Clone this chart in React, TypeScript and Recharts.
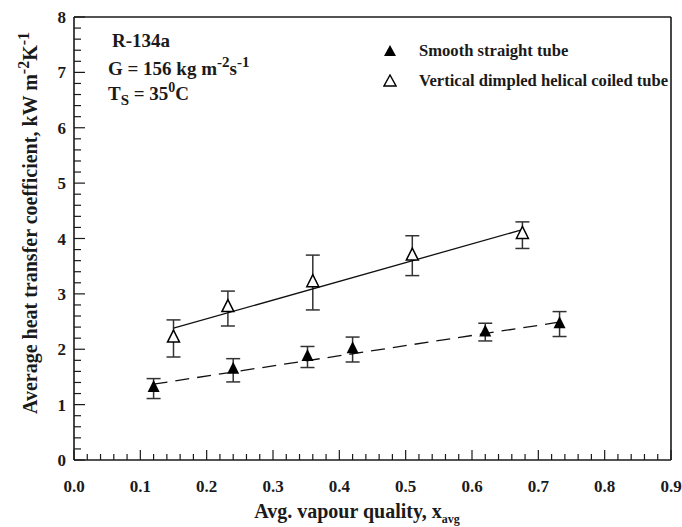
import React from 'react';
import {
  ScatterChart,
  Scatter,
  XAxis,
  YAxis,
  ErrorBar,
  ReferenceLine,
} from 'recharts';

// Smooth straight tube (filled triangles)
const smoothX = [0.12, 0.24, 0.352, 0.42, 0.62, 0.732];
const smoothY = [1.32, 1.65, 1.88, 2.02, 2.32, 2.47];
const smoothLow = [1.11, 1.41, 1.67, 1.77, 2.15, 2.23];
const smoothHigh = [1.47, 1.83, 2.05, 2.22, 2.47, 2.68];

// Vertical dimpled helical coiled tube (open triangles)
const dimpX = [0.15, 0.232, 0.36, 0.51, 0.676];
const dimpY = [2.22, 2.77, 3.22, 3.70, 4.09];
const dimpLow = [1.86, 2.42, 2.71, 3.33, 3.82];
const dimpHigh = [2.53, 3.05, 3.70, 4.05, 4.30];

// fitted trend lines (end points)
const smoothFitX = [0.12, 0.732];
const smoothFitY = [1.37, 2.49];
const dimpFitX = [0.15, 0.676];
const dimpFitY = [2.38, 4.16];

const xMajor = ['0.0', '0.1', '0.2', '0.3', '0.4', '0.5', '0.6', '0.7', '0.8', '0.9'];
const yMajor = ['0', '1', '2', '3', '4', '5', '6', '7', '8'];

const FONT = "'Liberation Serif', 'Times New Roman', 'DejaVu Serif', serif";
const INK = '#1a1a1a';
const txt = { fontFamily: FONT, fontWeight: 700 } as const;

const toPoints = (xs: number[], ys: number[], lo: number[], hi: number[]) =>
  xs.map((x, i) => ({ x, y: ys[i], err: [ys[i] - lo[i], hi[i] - ys[i]] }));

const smoothData = toPoints(smoothX, smoothY, smoothLow, smoothHigh);
const dimpData = toPoints(dimpX, dimpY, dimpLow, dimpHigh);
const smoothFit = smoothFitX.map((x, i) => ({ x, y: smoothFitY[i] }));
const dimpFit = dimpFitX.map((x, i) => ({ x, y: dimpFitY[i] }));

// majors plus 4 minor ticks between each pair
const withMinors = (majors: number[], parts: number) => {
  const out: number[] = [];
  majors.forEach((m, i) => {
    out.push(m);
    if (i < majors.length - 1) {
      const step = (majors[i + 1] - m) / parts;
      for (let k = 1; k < parts; k++) out.push(+(m + step * k).toFixed(4));
    }
  });
  return out;
};
const xTicks = withMinors(xMajor.map(Number), 5);
const yTicks = withMinors(yMajor.map(Number), 5);

const findLabel = (v: number, labels: string[]) => labels.find(l => Math.abs(Number(l) - v) < 1e-6);

const XTick = (props: any) => {
  const { x, y, payload } = props;
  const label = findLabel(payload.value, xMajor);
  return (
    <g>
      <line x1={x} y1={y} x2={x} y2={y - (label ? 10 : 6)} stroke={INK} strokeWidth={1.2} />
      {label && (
        <text x={x} y={y + 32} textAnchor="middle" style={{ ...txt, fontSize: 17 }} fill={INK}>
          {label}
        </text>
      )}
    </g>
  );
};

const YTick = (props: any) => {
  const { x, y, payload } = props;
  const label = findLabel(payload.value, yMajor);
  return (
    <g>
      <line x1={x} y1={y} x2={x + (label ? 11 : 7)} y2={y} stroke={INK} strokeWidth={1.2} />
      {label && (
        <text x={x - 8} y={y + 6} textAnchor="end" style={{ ...txt, fontSize: 17 }} fill={INK}>
          {label}
        </text>
      )}
    </g>
  );
};

const FilledTri = (p: any) => (
  <polygon points={`${p.cx},${p.cy - 7} ${p.cx - 6},${p.cy + 5} ${p.cx + 6},${p.cy + 5}`} fill="#000" />
);
const OpenTri = (p: any) => (
  <polygon
    points={`${p.cx},${p.cy - 7} ${p.cx - 6},${p.cy + 5} ${p.cx + 6},${p.cy + 5}`}
    fill="#fff"
    stroke="#000"
    strokeWidth={1.5}
  />
);
const NoDot = () => <g />;

const Annotations = () => (
  <g style={txt} fill={INK}>
    <text x={112} y={47} style={{ ...txt, fontSize: 19 }}>R-134a</text>
    <text x={108} y={75} style={{ ...txt, fontSize: 19 }}>
      G = 156 kg m
      <tspan dy={-8} fontSize={15}>-2</tspan>
      <tspan dy={8}>s</tspan>
      <tspan dy={-8} fontSize={15}>-1</tspan>
    </text>
    <text x={108} y={100} style={{ ...txt, fontSize: 19 }}>
      T
      <tspan dy={5} fontSize={15}>S</tspan>
      <tspan dy={-5}>{' =  35'}</tspan>
      <tspan dy={-8} fontSize={14}>0</tspan>
      <tspan dy={8}>C</tspan>
    </text>
    <text transform="translate(37,223) rotate(-90)" textAnchor="middle" style={{ ...txt, fontSize: 20 }}>
      Average heat transfer coefficient, kW m
      <tspan dy={-8} fontSize={16}>-2</tspan>
      <tspan dy={8}>K</tspan>
      <tspan dy={-8} fontSize={16}>-1</tspan>
    </text>
    <text x={357} y={518} textAnchor="middle" style={{ ...txt, fontSize: 20 }}>
      Avg. vapour quality, x
      <tspan dy={5} fontSize={12}>avg</tspan>
    </text>
  </g>
);

const legendItems = [
  { label: 'Smooth straight tube', filled: true },
  { label: 'Vertical dimpled helical coiled tube', filled: false },
];

const LegendBox = () => (
  <div
    style={{
      position: 'absolute',
      left: 383,
      top: 36,
      ...txt,
      fontSize: 16.6,
      color: INK,
      whiteSpace: 'nowrap',
    }}
  >
    {legendItems.map(it => (
      <div key={it.label} style={{ display: 'flex', alignItems: 'center', height: 30 }}>
        <svg width={14} height={14} style={{ marginRight: 22 }}>
          <polygon
            points="7,1 1,12 13,12"
            fill={it.filled ? '#000' : '#fff'}
            stroke="#000"
            strokeWidth={it.filled ? 0 : 1.4}
          />
        </svg>
        {it.label}
      </div>
    ))}
  </div>
);

export default function App() {
  return (
    <div style={{ position: 'absolute', left: 0, top: 0, width: 682, height: 527, background: '#fff' }}>
      <ScatterChart width={682} height={527} margin={{ top: 17, right: 11, bottom: 0, left: 0 }}>
        <XAxis
          type="number"
          dataKey="x"
          domain={[0, 0.9]}
          ticks={xTicks}
          interval={0}
          tick={<XTick />}
          tickLine={false}
          tickSize={0}
          tickMargin={0}
          height={67}
          axisLine={{ stroke: INK, strokeWidth: 1.6 }}
          allowDataOverflow
        />
        <YAxis
          type="number"
          dataKey="y"
          domain={[0, 8]}
          ticks={yTicks}
          interval={0}
          tick={<YTick />}
          tickLine={false}
          tickSize={0}
          tickMargin={0}
          width={74}
          axisLine={{ stroke: INK, strokeWidth: 1.6 }}
          allowDataOverflow
        />
        <ReferenceLine y={8} stroke={INK} strokeWidth={1.6} />
        <ReferenceLine x={0.9} stroke={INK} strokeWidth={1.6} />
        <Scatter
          data={dimpFit}
          line={{ stroke: '#111', strokeWidth: 1.3 }}
          shape={<NoDot />}
          legendType="none"
          isAnimationActive={false}
        />
        <Scatter
          data={smoothFit}
          line={{ stroke: '#111', strokeWidth: 1.3, strokeDasharray: '14 8' }}
          shape={<NoDot />}
          legendType="none"
          isAnimationActive={false}
        />
        <Scatter data={smoothData} shape={<FilledTri />} isAnimationActive={false}>
          <ErrorBar dataKey="err" direction="y" width={7} stroke="#333" strokeWidth={1.5} isAnimationActive={false} />
        </Scatter>
        <Scatter data={dimpData} shape={<OpenTri />} isAnimationActive={false}>
          <ErrorBar dataKey="err" direction="y" width={7} stroke="#333" strokeWidth={1.5} isAnimationActive={false} />
        </Scatter>
        <Annotations />
      </ScatterChart>
      <LegendBox />
    </div>
  );
}
